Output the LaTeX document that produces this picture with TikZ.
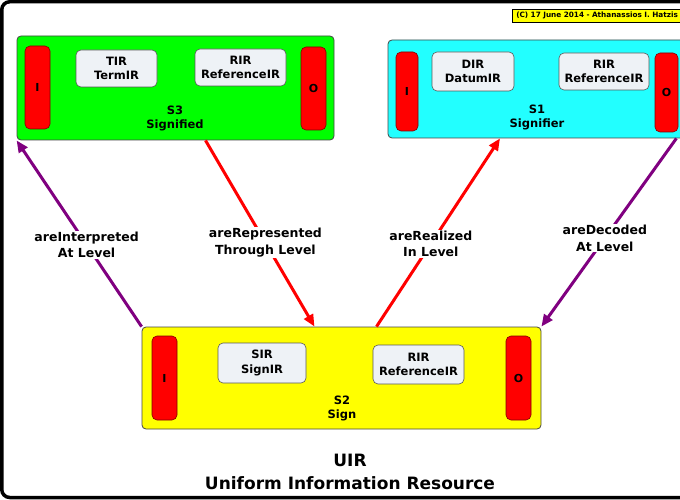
\documentclass[tikz,border=0pt]{standalone}
\usepackage{fontspec}
\setmainfont{DejaVu Sans}
\usetikzlibrary{arrows.meta}

\definecolor{signgreen}{HTML}{00FF00}
\definecolor{signcyan}{HTML}{22FFFF}
\definecolor{signyellow}{HTML}{FFFF00}
\definecolor{portred}{HTML}{FF0000}
\definecolor{irgray}{HTML}{EEF2F6}
\definecolor{relpurple}{HTML}{800080}
\definecolor{relred}{HTML}{FF0000}

\tikzset{
	layer/.style={rectangle, rounded corners=4pt, draw=gray!55!black, line width=0.8pt, inner sep=0pt},
	port/.style={rectangle, rounded corners=5pt, fill=portred, draw=red!50!black, line width=0.6pt,
		inner sep=0pt, minimum width=25pt, minimum height=83pt, font=\bfseries\fontsize{11}{13}\selectfont},
	irbox/.style={rectangle, rounded corners=5pt, fill=irgray, draw=gray!70!black, line width=0.6pt,
		inner sep=0pt, align=center, minimum height=38pt, font=\bfseries\fontsize{11.5}{14.5}\selectfont},
	layername/.style={align=center, font=\bfseries\fontsize{11.5}{14.5}\selectfont},
	rel/.style={line width=3pt, -{Triangle[length=12pt,width=10pt]}},
	rellabel/.style={fill=white, text=black, inner sep=1pt, align=center, font=\bfseries\fontsize{12.5}{16.5}\selectfont}
}

\begin{document}
\begin{tikzpicture}[x=1pt,y=-1pt]
	\clip (0,0) rectangle (680,500);
	\fill[white] (0,0) rectangle (680,500);
	\draw[line width=3.5pt, rounded corners=8pt] (1.75,1.75) rectangle (740,497.5);

	% copyright
	\node[rectangle, fill=signyellow, draw=black, line width=0.5pt, anchor=west, minimum height=13pt,
		text width=172pt, inner xsep=4pt, inner ysep=0pt, align=left,
		font=\bfseries\fontsize{7.3}{9}\selectfont] (copy) at (512,15.5) {(C) 17 June 2014 - Athanassios I. Hatzis};

	% S3 signified
	\node[layer, fill=signgreen, minimum width=317pt, minimum height=104pt] (s3) at (175.5,88) {};
	\node[port] (s3in) at (37.5,87.5) {I};
	\node[port] (s3out) at (313.5,88.5) {O};
	\node[irbox, minimum width=81pt, minimum height=37pt] (tir) at (116.5,68.5) {TIR\\TermIR};
	\node[irbox, minimum width=91pt, minimum height=37pt] (s3rir) at (240.5,67.5) {RIR\\ReferenceIR};
	\node[layername] (s3name) at (175,118.5) {S3\\Signified};

	% S1 signifier
	\node[layer, fill=signcyan, minimum width=298pt, minimum height=98pt] (s1) at (537,89) {};
	\node[port, minimum width=22pt, minimum height=79pt] (s1in) at (407,91.5) {I};
	\node[port, minimum width=23pt, minimum height=79pt] (s1out) at (666.5,92.5) {O};
	\node[irbox, minimum width=82pt, minimum height=39pt] (dir) at (473,71.5) {DIR\\DatumIR};
	\node[irbox, minimum width=90pt, minimum height=37pt] (s1rir) at (604,71.5) {RIR\\ReferenceIR};
	\node[layername] (s1name) at (537,117.5) {S1\\Signifier};

	% S2 sign
	\node[layer, fill=signyellow, minimum width=399pt, minimum height=102pt] (s2) at (341.5,378) {};
	\node[port, minimum height=84pt] (s2in) at (164.5,378) {I};
	\node[port, minimum height=84pt] (s2out) at (518.5,378) {O};
	\node[irbox, minimum width=88pt, minimum height=40pt] (sir) at (262,363) {SIR\\SignIR};
	\node[irbox, minimum width=91pt, minimum height=39pt] (s2rir) at (418.5,364.5) {RIR\\ReferenceIR};
	\node[layername] (s2name) at (342,408.5) {S2\\Sign};

	% levels
	\draw[rel, relpurple] (s2.north west) -- (s3.south west)
		node[rellabel, pos=0.44] {areInterpreted\\At Level};
	\draw[rel, relred] ([xshift=30pt]s3.south) -- ([xshift=-27pt]s2.north)
		node[rellabel, pos=0.55] {areRepresented\\Through Level};
	\draw[rel, relred] ([xshift=35pt]s2.north) -- ([xshift=-37pt]s1.south)
		node[rellabel, pos=0.44] {areRealized\\In Level};
	\draw[rel, relpurple] ([xshift=-10pt]s1.south east) -- (s2.north east)
		node[rellabel, pos=0.53] {areDecoded\\At Level};

	% title
	\node[align=center, font=\bfseries\fontsize{17}{23}\selectfont] (title) at (350,471.5) {UIR\\Uniform Information Resource};
\end{tikzpicture}
\end{document}
